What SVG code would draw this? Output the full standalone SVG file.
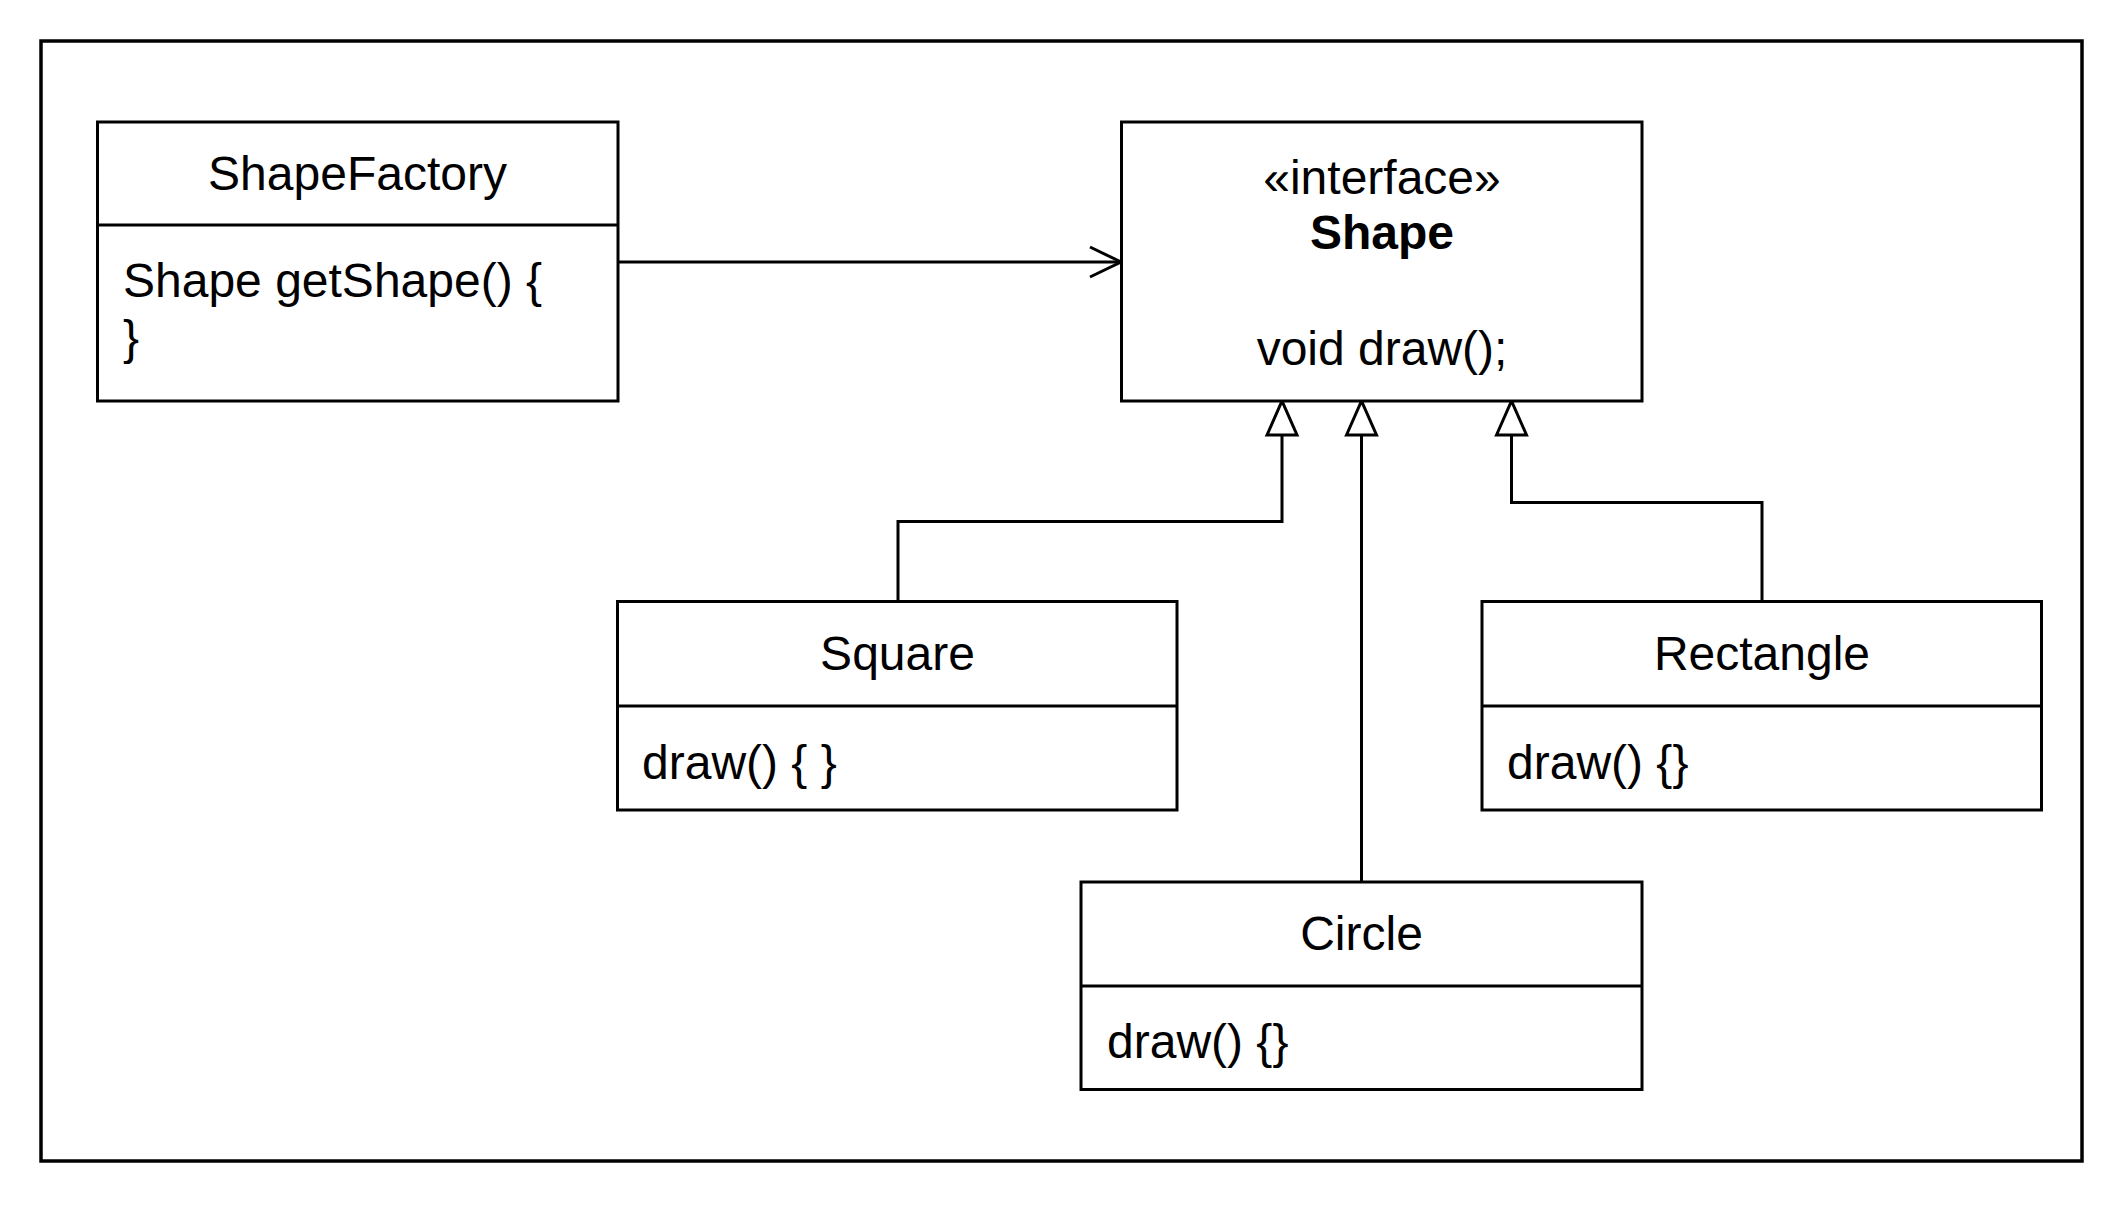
<svg xmlns="http://www.w3.org/2000/svg" width="2124" height="1208" viewBox="0 0 2124 1208">
  <style>
    .box { fill: #ffffff; stroke: #000000; stroke-width: 3; }
    .div { stroke: #000000; stroke-width: 3; }
    .t { font-family: "Liberation Sans", Arial, Helvetica, sans-serif; font-size: 48px; fill: #000000; }
    .c { text-anchor: middle; }
    .b { font-weight: bold; }
    .edge { fill: none; stroke: #000000; stroke-width: 3; }
  </style>
  <defs>
    <marker id="open" markerUnits="userSpaceOnUse" viewBox="-4 -4 40 38" markerWidth="40" markerHeight="38" refX="31" refY="15" orient="auto" overflow="visible">
      <path d="M0,0 L31,15 L0,30" fill="none" stroke="#000000" stroke-width="3"/>
    </marker>
    <marker id="tri" markerUnits="userSpaceOnUse" viewBox="-4 -4 42 38" markerWidth="42" markerHeight="38" refX="34" refY="15" orient="auto" overflow="visible">
      <path d="M0,0 L34,15 L0,30 Z" fill="#ffffff" stroke="#000000" stroke-width="3"/>
    </marker>
  </defs>
  <rect width="2124" height="1208" fill="#ffffff"/>
  <rect id="frame" x="41" y="41" width="2041" height="1120" fill="none" stroke="#000000" stroke-width="3.5"/>

  <g id="connectors">
    <path class="edge" d="M618,262 H1121" marker-end="url(#open)"/>
    <path class="edge" d="M898,601 V521.5 H1282 V401" marker-end="url(#tri)"/>
    <path class="edge" d="M1361.5,882 V401" marker-end="url(#tri)"/>
    <path class="edge" d="M1762,601 V502.5 H1511.5 V401" marker-end="url(#tri)"/>
  </g>

  <g id="ShapeFactory">
    <rect class="box" x="97.5" y="122" width="520.5" height="279"/>
    <line class="div" x1="97.5" y1="225" x2="618" y2="225"/>
    <text class="t c" x="357.5" y="190">ShapeFactory</text>
    <text class="t" x="123" y="297">Shape getShape() {</text>
    <text class="t" x="123" y="354">}</text>
  </g>

  <g id="Shape">
    <rect class="box" x="1121.5" y="122" width="520.5" height="279"/>
    <text class="t c" x="1382" y="194">«interface»</text>
    <text class="t c b" x="1382" y="249">Shape</text>
    <text class="t c" x="1382" y="365">void draw();</text>
  </g>

  <g id="Square">
    <rect class="box" x="617.5" y="601.5" width="559.5" height="208.5"/>
    <line class="div" x1="617.5" y1="706" x2="1177" y2="706"/>
    <text class="t c" x="897.5" y="670">Square</text>
    <text class="t" x="642" y="779">draw() { }</text>
  </g>

  <g id="Rectangle">
    <rect class="box" x="1482" y="601.5" width="559.5" height="208.5"/>
    <line class="div" x1="1482" y1="706" x2="2041.5" y2="706"/>
    <text class="t c" x="1762" y="670">Rectangle</text>
    <text class="t" x="1507" y="779">draw() {}</text>
  </g>

  <g id="Circle">
    <rect class="box" x="1081" y="882" width="561" height="207.5"/>
    <line class="div" x1="1081" y1="986" x2="1642" y2="986"/>
    <text class="t c" x="1361.5" y="950">Circle</text>
    <text class="t" x="1107" y="1058">draw() {}</text>
  </g>
</svg>
